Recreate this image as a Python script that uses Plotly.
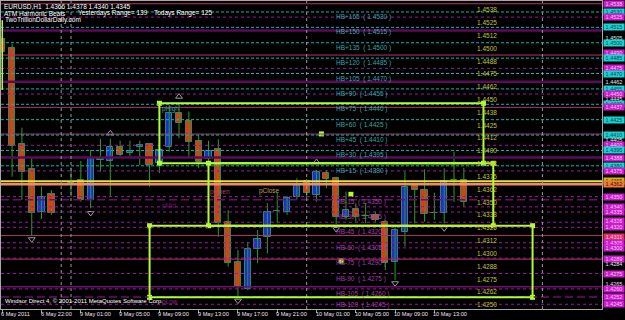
import plotly.graph_objects as go

# ---------------- data ----------------
bar_idx = [-7, -6, -5, -4, -3, -2, 0, 1, 2, 3, 4, 5, 6, 7, 8, 9, 10, 11, 12, 13, 14, 15,
           16, 17, 18, 19, 20, 21, 22, 23, 24, 25, 26, 27, 28, 29, 30, 31, 32, 33, 34,
           35, 36, 37, 38, 39, 40]
opens = [1.45034, 1.44946, 1.44010, 1.43769, 1.43347, 1.43523, 1.43630, 1.43659, 1.43467,
         1.43860, 1.43847, 1.43981, 1.43922, 1.43981, 1.44010, 1.43825, 1.43981, 1.44312,
         1.44240, 1.44045, 1.43867, 1.43964, 1.43255, 1.42865, 1.42599, 1.42986, 1.43109,
         1.43355, 1.43347, 1.43499, 1.43652, 1.43516, 1.43733, 1.43679, 1.43304, 1.43376,
         1.43311, 1.43321, 1.43255, 1.42865, 1.43158, 1.43613, 1.43564, 1.43343, 1.43343,
         1.43660, 1.43660]
highs = [1.45066, 1.44988, 1.44172, 1.43879, 1.43597, 1.43564, 1.43782, 1.43847, 1.43954,
         1.44062, 1.44062, 1.44045, 1.44045, 1.44045, 1.44013, 1.44023, 1.44393, 1.44403,
         1.44328, 1.44101, 1.44045, 1.44059, 1.43369, 1.42979, 1.43060, 1.43174, 1.43435,
         1.43532, 1.43506, 1.43679, 1.43672, 1.43759, 1.43759, 1.43694, 1.43548, 1.43435,
         1.43435, 1.43353, 1.43272, 1.43207, 1.43743, 1.43613, 1.43766, 1.43538, 1.43776,
         1.43938, 1.43780]
lows = [1.44881, 1.43694, 1.43467, 1.43126, 1.43282, 1.43321, 1.43499, 1.43450, 1.43386,
        1.43743, 1.43499, 1.43896, 1.43896, 1.43808, 1.43597, 1.43730, 1.43938, 1.44069,
        1.43889, 1.43776, 1.43808, 1.43109, 1.42817, 1.42524, 1.42589, 1.42850, 1.42947,
        1.43240, 1.43321, 1.43467, 1.43484, 1.43450, 1.43581, 1.43233, 1.43272, 1.43255,
        1.43240, 1.43255, 1.42784, 1.42687, 1.43012, 1.43240, 1.43255, 1.43272, 1.43240,
        1.43450, 1.43400]
closes = [1.44907, 1.43993, 1.43743, 1.43337, 1.43499, 1.43337, 1.43625, 1.43467, 1.43879,
          1.43870, 1.43981, 1.43906, 1.43948, 1.44003, 1.43805, 1.43954, 1.44318, 1.44215,
          1.44035, 1.43840, 1.43948, 1.43240, 1.42856, 1.42616, 1.42989, 1.43087, 1.43353,
          1.43360, 1.43484, 1.43620, 1.43532, 1.43743, 1.43669, 1.43304, 1.43369, 1.43304,
          1.43312, 1.43272, 1.42850, 1.43174, 1.43597, 1.43564, 1.43328, 1.43343, 1.43652,
          1.43662, 1.43450]

xtick_idx = [-7, -3, 1, 5, 9, 13, 17, 21, 25, 29, 33, 37]
xtick_text = ["6 May 2011", "6 May 22:00", "9 May 01:00", "9 May 05:00", "9 May 09:00",
              "9 May 13:00", "9 May 17:00", "9 May 21:00", "10 May 01:00", "10 May 05:00",
              "10 May 09:00", "10 May 13:00"]
separator_idx = [-1, 0, 24, 48]

hb_names = ["HB+165", "HB+150", "HB+135", "HB+120", "HB+105", "HB+90", "HB+75", "HB+60",
            "HB+45", "HB+30", "HB+15", "HB-15", "HB-30", "HB-45", "HB-60", "HB-75",
            "HB-90", "HB-105", "HB-120"]
hb_prices = [1.4530, 1.4515, 1.4500, 1.4485, 1.4470, 1.4455, 1.4440, 1.4425, 1.4410,
             1.4395, 1.4380, 1.4350, 1.4335, 1.4320, 1.4305, 1.4290, 1.4275, 1.4260, 1.4245]
hb_base = 1.4365
current_level = 1.4362

round_levels = [1.4525, 1.4475, 1.4450, 1.4400, 1.4375, 1.4340, 1.4325, 1.4300]
pink_levels = [1.4538, 1.4488, 1.4437, 1.4411, 1.4312, 1.4289]
purple_thick_levels = [1.4512, 1.4462, 1.4388]
purple_dash_levels = [1.4347, 1.4252]
purple_solid_levels = [1.4262]

grid_prices = [1.45375, 1.4525, 1.45125, 1.4500, 1.44875, 1.4475, 1.44625, 1.4450,
               1.44375, 1.4425, 1.44125, 1.4400, 1.43875, 1.4375, 1.43625, 1.4350,
               1.43375, 1.4325, 1.43125, 1.4300, 1.42875, 1.4275, 1.42625, 1.4250]
grid_texts = ["1.4538", "1.4525", "1.4512", "1.4500", "1.4488", "1.4475", "1.4462", "1.4450",
              "1.4438", "1.4425", "1.4412", "1.4400", "1.4388", "1.4375", "1.4362", "1.4350",
              "1.4338", "1.4325", "1.4312", "1.4300", "1.4288", "1.4275", "1.4262", "1.4250"]

right_prices = [1.4538, 1.4530, 1.4525, 1.4515, 1.4505, 1.4500, 1.4490, 1.4485, 1.4475,
                1.4470, 1.4462, 1.4455, 1.4450, 1.4445, 1.4440, 1.4437, 1.4425, 1.4410,
                1.4405, 1.4400, 1.4395, 1.4388, 1.4380, 1.4375, 1.4365, 1.4362, 1.4350,
                1.4340, 1.4335, 1.4326, 1.4320, 1.4311, 1.4305, 1.4300, 1.4289, 1.4284,
                1.4275, 1.4265, 1.4260, 1.4252, 1.4245]
right_texts = ["1.4538", "1.4530", "1.4525", "1.4515", "1.4505", "1.4500", "1.4490", "1.4485",
               "1.4475", "1.4470", "1.4462", "1.4455", "1.4450", "1.4445", "1.4440", "1.4437",
               "1.4425", "1.4410", "1.4405", "1.4400", "1.4395", "1.4388", "1.4380", "1.4375",
               "1.4365", "1.4362", "1.4350", "1.4340", "1.4335", "1.4326", "1.4320", "1.4311",
               "1.4305", "1.4300", "1.4289", "1.4284", "1.4275", "1.4265", "1.4260", "1.4252",
               "1.4245"]
right_kinds = ["m", "c", "m", "c", "w", "c", "m", "c", "m", "c", "w", "c", "m", "w", "c", "m",
               "c", "c", "w", "m", "c", "m", "c", "m", "y", "o", "m", "m", "m", "m", "m", "r",
               "m", "m", "m", "w", "m", "w", "m", "m", "m"]

# zone rectangles
rect_x0 = [9, 14, 8]
rect_x1 = [42, 43, 47]
rect_top = [1.44410, 1.43825, 1.43216]
rect_bot = [1.43825, 1.43216, 1.42518]
rect_names = ["pHigh", "pMid", "pLow"]
rect_name_y = [1.44410, 1.43470, 1.42530]

marker_sq_x = [25.5, 28.5, 27.5]
marker_sq_y = [1.44111, 1.43522, 1.42872]

frac_up_x = [4, 11, 25]
frac_up_y = [1.44117, 1.44474, 1.43837]
frac_dn_x = [-4, 2, 17, 27, 33, 38]
frac_dn_y = [1.43084, 1.43340, 1.42485, 1.43184, 1.42655, 1.43191]

# ---------------- styling ----------------
FONT = "Liberation Sans"
UP_FILL, DN_FILL = "#1c2fd2", "#f2300e"
EDGE, WICK = "#2a8a70", "#22a322"
LIME = "#adff2f"
CYAN, MAG, PINK, DPURP = "#12b4b4", "#a612a6", "#b8306a", "#5c0a5c"

X_MIN, X_MAX = -7.13, 54.07
Y_MIN, Y_MAX = 1.42404, 1.45407

fig = go.Figure()

# wicks
wx, wy = [], []
for k, h, l in zip(bar_idx, highs, lows):
    wx += [k, k, None]
    wy += [l, h, None]
fig.add_trace(go.Scatter(x=wx, y=wy, mode="lines", line=dict(color=WICK, width=1),
                         hoverinfo="skip", showlegend=False))

# bodies
bases, heights, fills, edges = [], [], [], []
for o, c in zip(opens, closes):
    bases.append(min(o, c))
    d = abs(c - o)
    heights.append(max(d, 0.000012))
    if d < 0.00003:
        fills.append(WICK)
        edges.append(WICK)
    elif c > o:
        fills.append(UP_FILL)
        edges.append(EDGE)
    else:
        fills.append(DN_FILL)
        edges.append(EDGE)
fig.add_trace(go.Bar(x=bar_idx, y=heights, base=bases, width=0.64,
                     marker=dict(color=fills, line=dict(color=edges, width=1)),
                     hoverinfo="skip", showlegend=False))

shapes = []


def hline(price, color, width=1, dash="solid"):
    shapes.append(dict(type="line", xref="paper", x0=0, x1=1, yref="y", y0=price, y1=price,
                       line=dict(color=color, width=width, dash=dash), layer="above"))


for p in round_levels:
    hline(p, MAG, 1, "dot")
for p in pink_levels:
    hline(p, PINK, 1)
for p in purple_thick_levels:
    hline(p, DPURP, 2.5)
for p in purple_dash_levels:
    hline(p, "#6a106a", 1.5, "8px,4px")
for p in purple_solid_levels:
    hline(p, "#6a106a", 1.5)
for name, p in zip(hb_names, hb_prices):
    if "+" in name:
        hline(p, CYAN, 1, "3px,2px")
    else:
        hline(p, MAG, 1, "dot")
hline(hb_base, "#e6e62e", 2)
hline(current_level, "#f4886a", 2.5)

# day separators
for k in separator_idx:
    shapes.append(dict(type="line", xref="x", x0=k, x1=k, yref="paper", y0=0, y1=1,
                       line=dict(color="#9a9a9a", width=1, dash="dot"), layer="above"))

# zone rectangles
for x0, x1, t, b in zip(rect_x0, rect_x1, rect_top, rect_bot):
    shapes.append(dict(type="rect", xref="x", yref="y", x0=x0, x1=x1, y0=b, y1=t,
                       line=dict(color=LIME, width=2), fillcolor="rgba(0,0,0,0)",
                       layer="above"))
shapes.append(dict(type="line", xref="x", yref="y", x0=-7, x1=-7, y0=1.4454, y1=1.4522,
                   line=dict(color=LIME, width=1.5), layer="above"))

# corner squares
cx, cy = [], []
for x0, x1, t, b in zip(rect_x0, rect_x1, rect_top, rect_bot):
    cx += [x0, x0, x1, x1]
    cy += [t, b, t, b]
fig.add_trace(go.Scatter(x=cx + marker_sq_x, y=cy + marker_sq_y, mode="markers",
                         marker=dict(symbol="square", size=5, color=LIME),
                         hoverinfo="skip", showlegend=False))

# fractals
fig.add_trace(go.Scatter(x=frac_up_x, y=frac_up_y, mode="markers",
                         marker=dict(symbol="triangle-up-open", size=6, color="#9a9a9a",
                                     line=dict(width=1)),
                         hoverinfo="skip", showlegend=False))
fig.add_trace(go.Scatter(x=frac_dn_x, y=frac_dn_y, mode="markers",
                         marker=dict(symbol="triangle-down-open", size=6, color="#9a9a9a",
                                     line=dict(width=1)),
                         hoverinfo="skip", showlegend=False))

ann = []


def px(x):
    return (x - 1) / 601.0


def py(y):
    return (309 - y) / 308.0


def ptext(x, y, text, color="#ffffff", size=6):
    ann.append(dict(xref="paper", yref="paper", x=px(x), y=py(y), text=text,
                    showarrow=False, xanchor="left", yanchor="middle", borderpad=0,
                    font=dict(family=FONT, size=size, color=color)))


ptext(3, 6, "EURUSD,H1  1.4366 1.4378 1.4340 1.4345", size=6.5)
ptext(3, 13, "ATM Harmonic Beats", size=6.5)
ptext(77, 13, "Yesterdays Range= 139", size=6.5)
ptext(153, 13, "Todays Range= 125", size=6.5)
ptext(4, 20, "TwoTrillionDollarDaily.com", size=6.5)
ptext(4, 301, "Windsor Direct 4, © 2001-2011 MetaQuotes Software Corp.", size=6)

rect_name_cols = ["#3aa0a0", "#6a1a6a", "#8a208a"]
for n, yv, col in zip(rect_names, rect_name_y, rect_name_cols):
    ann.append(dict(xref="x", yref="y", x=rect_x0[0] + 0.1, y=yv, text=n, showarrow=False,
                    xanchor="left", yanchor="top", borderpad=1,
                    font=dict(family=FONT, size=6.5, color=col)))
ann.append(dict(xref="x", yref="y", x=13.9, y=1.43600, text="pOpen", showarrow=False,
                xanchor="left", yanchor="top",
                font=dict(family=FONT, size=6.5, color="#a84060")))
ann.append(dict(xref="x", yref="y", x=18.9, y=1.43610, text="pClose", showarrow=False,
                xanchor="left", yanchor="top",
                font=dict(family=FONT, size=6.5, color="#b8a040")))

# HB labels (the lowest one is nudged up so it stays inside the plot frame)
for name, p in zip(hb_names, hb_prices):
    col = "#35a8a8" if "+" in name else "#a83cb0"
    lift = 4 if p == min(hb_prices) else 0
    ann.append(dict(xref="x", yref="y", x=26.9, y=p, text=f"{name}  ( {p:.4f} )",
                    showarrow=False, xanchor="left", yanchor="top", yshift=lift,
                    borderpad=0, font=dict(family=FONT, size=6.5, color=col)))

# yellow price grid labels
for p, t in zip(grid_prices, grid_texts):
    ann.append(dict(xref="x", yref="y", x=41.1, y=p, text=t, showarrow=False,
                    xanchor="left", yanchor="top",
                    font=dict(family=FONT, size=6.5, color="#c4c436")))

# right-hand price boxes
kind_style = {"c": ("#19d2d2", "#0a4a4a"), "m": ("#c81ec8", "#ffc0ff"),
              "w": ("rgba(0,0,0,0)", "#e8e8e8"), "y": ("#d2b40a", "#202000"),
              "o": ("#f07a3a", "#401000"), "r": ("#e0306a", "#ffd0e0")}
for p, t, kd in zip(right_prices, right_texts, right_kinds):
    bg, fg = kind_style[kd]
    ann.append(dict(xref="paper", yref="y", x=1, xshift=1, y=p, text=t, showarrow=False,
                    xanchor="left", yanchor="middle", bgcolor=bg, borderpad=0,
                    width=20, height=6, font=dict(family=FONT, size=5.5, color=fg)))

# x-axis labels (left aligned at their bar)
for k, t in zip(xtick_idx, xtick_text):
    ann.append(dict(xref="x", yref="paper", x=k, y=0, text=t, showarrow=False,
                    xanchor="left", yanchor="top", xshift=-2, yshift=-1, borderpad=0,
                    font=dict(family=FONT, size=5.6, color="#e8e8e8")))

fig.update_layout(
    width=625, height=320,
    margin=dict(l=1, r=23, t=1, b=11),
    paper_bgcolor="#000000", plot_bgcolor="#000000",
    barmode="overlay", bargap=0,
    shapes=shapes, annotations=ann,
    showlegend=False,
    xaxis=dict(range=[X_MIN, X_MAX], showgrid=False, zeroline=False, showticklabels=False,
               tickvals=xtick_idx, ticks="outside", ticklen=3, tickcolor="#a0a0a0",
               showline=True, mirror=True, linecolor="#a8a8a8", linewidth=1),
    yaxis=dict(range=[Y_MIN, Y_MAX], showgrid=False, zeroline=False, showticklabels=False,
               showline=True, mirror=True, linecolor="#a8a8a8", linewidth=1),
)

fig.write_html("out.html")
